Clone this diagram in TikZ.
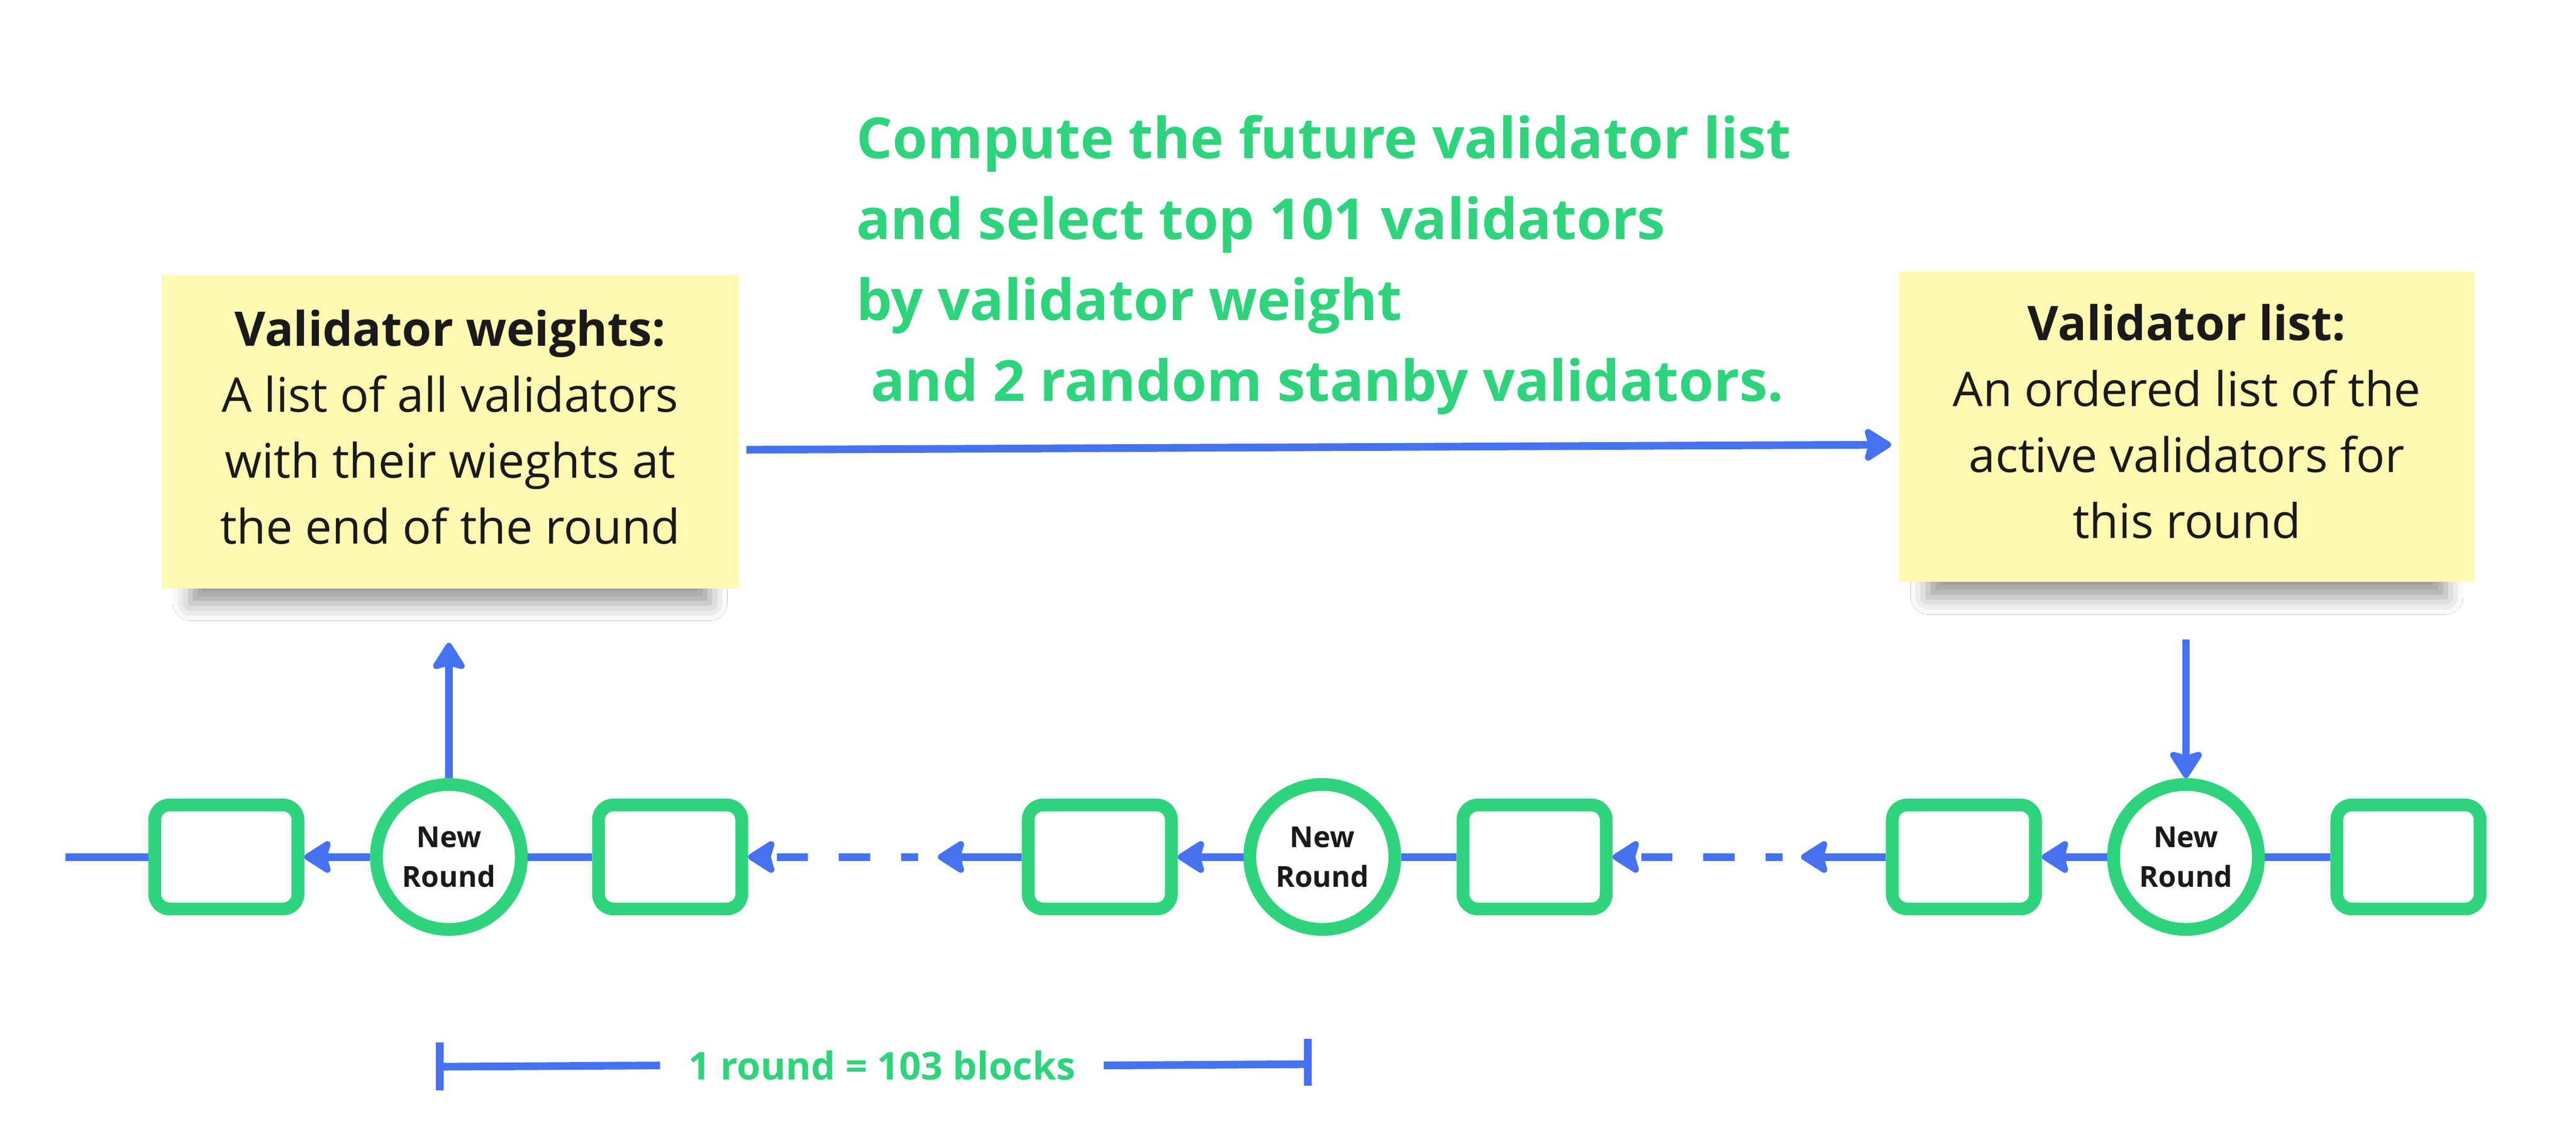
\documentclass[tikz,border=0pt]{standalone}
\usepackage{fontspec}
\setmainfont{Open Sans}
\usetikzlibrary{arrows.meta,shadows.blur}
\definecolor{notey}{HTML}{FFF9B1}
\definecolor{linkblue}{HTML}{4472F0}
\definecolor{blockgreen}{HTML}{2ED47C}
\definecolor{ink}{HTML}{1A1A1A}

\begin{document}
\begin{tikzpicture}[
			note/.style={
				fill = notey,
				align = center,
				text = ink,
				font = \fontsize{31.8}{44}\selectfont,
				blur shadow={shadow xshift=0cm, shadow yshift=-0.8cm,
					shadow scale=0.9, shadow blur radius=0.45cm, shadow opacity=40}},
			blk/.style={
				draw = blockgreen,
				line width = 0.3cm,
				fill = white,
				rounded corners = 0.35cm,
				minimum width = 3.36cm,
				minimum height = 2.44cm},
			rnd/.style={
				circle,
				draw = blockgreen,
				line width = 0.3cm,
				fill = white,
				minimum size = 3.4cm,
				inner sep = 0pt,
				align = center,
				text = ink,
				font = \bfseries\fontsize{19.3}{26.5}\selectfont},
			link/.style={draw=linkblue, line width=0.18cm},
			arr/.style={-{Stealth[length=0.72cm, width=0.9cm, inset=0.12cm, round]}},
			dashlink/.style={dash pattern=on 0.73cm off 0.73cm, dash phase=0.33cm}]
			\fill[white] (0, 0) rectangle (60.43, 26.47);
			% the two notes
			\node (vw) at (10.56, 16.34) [note, minimum width=13.54cm, minimum height=7.34cm]
				{{\bfseries Validator weights:}\\A list of all validators\\with their wieghts at\\the end of the round\vrule depth 0.24cm width 0pt height 0pt};
			\node (vl) at (51.30, 16.46) [note, minimum width=13.50cm, minimum height=7.28cm]
				{{\bfseries Validator list:}\\An ordered list of the\\active validators for\\this round\vrule depth 0.26cm width 0pt height 0pt};
			\node (task) at (20.08, 23.78) [anchor=north west, inner sep=0pt, align=left,
				text=blockgreen, font=\bfseries\fontsize{37.8}{54}\selectfont]
				{Compute the future validator list\\and select top 101 validators\\by validator weight\\\mbox{}\ and 2 random stanby validators.};
			% the chain
			\node (b1) at (5.31, 6.37) [blk] {};
			\node (r1) at (10.53, 6.37) [rnd] {New\\Round};
			\node (b2) at (15.72, 6.37) [blk] {};
			\node (b3) at (25.80, 6.37) [blk] {};
			\node (r2) at (31.02, 6.37) [rnd] {New\\Round};
			\node (b4) at (36.00, 6.37) [blk] {};
			\node (b5) at (46.07, 6.37) [blk] {};
			\node (r3) at (51.28, 6.37) [rnd] {New\\Round};
			\node (b6) at (56.50, 6.37) [blk] {};
			\coordinate (chainend) at (1.53, 6.37);
			\coordinate (gapa) at (22.00, 6.37);
			\coordinate (gapb) at (42.25, 6.37);
			\draw[link] (b1) -- (chainend);
			\draw[link, arr] (r1) -- (b1);
			\draw[link] (b2) -- (r1);
			\draw[link, arr, dashlink] ([xshift=-0.46cm]gapa) -- (b2);
			\draw[link, arr] (b3) -- (gapa);
			\draw[link, arr] (r2) -- (b3);
			\draw[link] (b4) -- (r2);
			\draw[link, arr, dashlink] ([xshift=-0.43cm]gapb) -- (b4);
			\draw[link, arr] (b5) -- (gapb);
			\draw[link, arr] (r3) -- (b5);
			\draw[link] (b6) -- (r3);
			% notes and chain
			\draw[link, arr, shorten <=0.17cm, shorten >=0.18cm]
				([yshift=-0.42cm]vw.east) -- ([yshift=-0.42cm]vl.west);
			\draw[link, arr, shorten >=1.27cm] (r1.north) -- (r1.north |- vw.south);
			\draw[link, arr, shorten <=1.34cm] (r3.north |- vl.south) -- (r3.north);
			% one round
			\node (span) at (20.69, 1.48) [inner xsep=0.66cm, inner ysep=0pt,
				text=blockgreen, font=\bfseries\fontsize{25.6}{30}\selectfont] {1 round = 103 blocks};
			\coordinate (spanl) at (10.31, 1.45);
			\coordinate (spanr) at (30.68, 1.51);
			\draw[link] (span.west) -- (spanl);
			\draw[link] (span.east) -- (spanr);
			\draw[link] ([yshift=0.57cm]spanl) -- ([yshift=-0.56cm]spanl);
			\draw[link] ([yshift=0.59cm]spanr) -- ([yshift=-0.50cm]spanr);
\end{tikzpicture}
\end{document}
